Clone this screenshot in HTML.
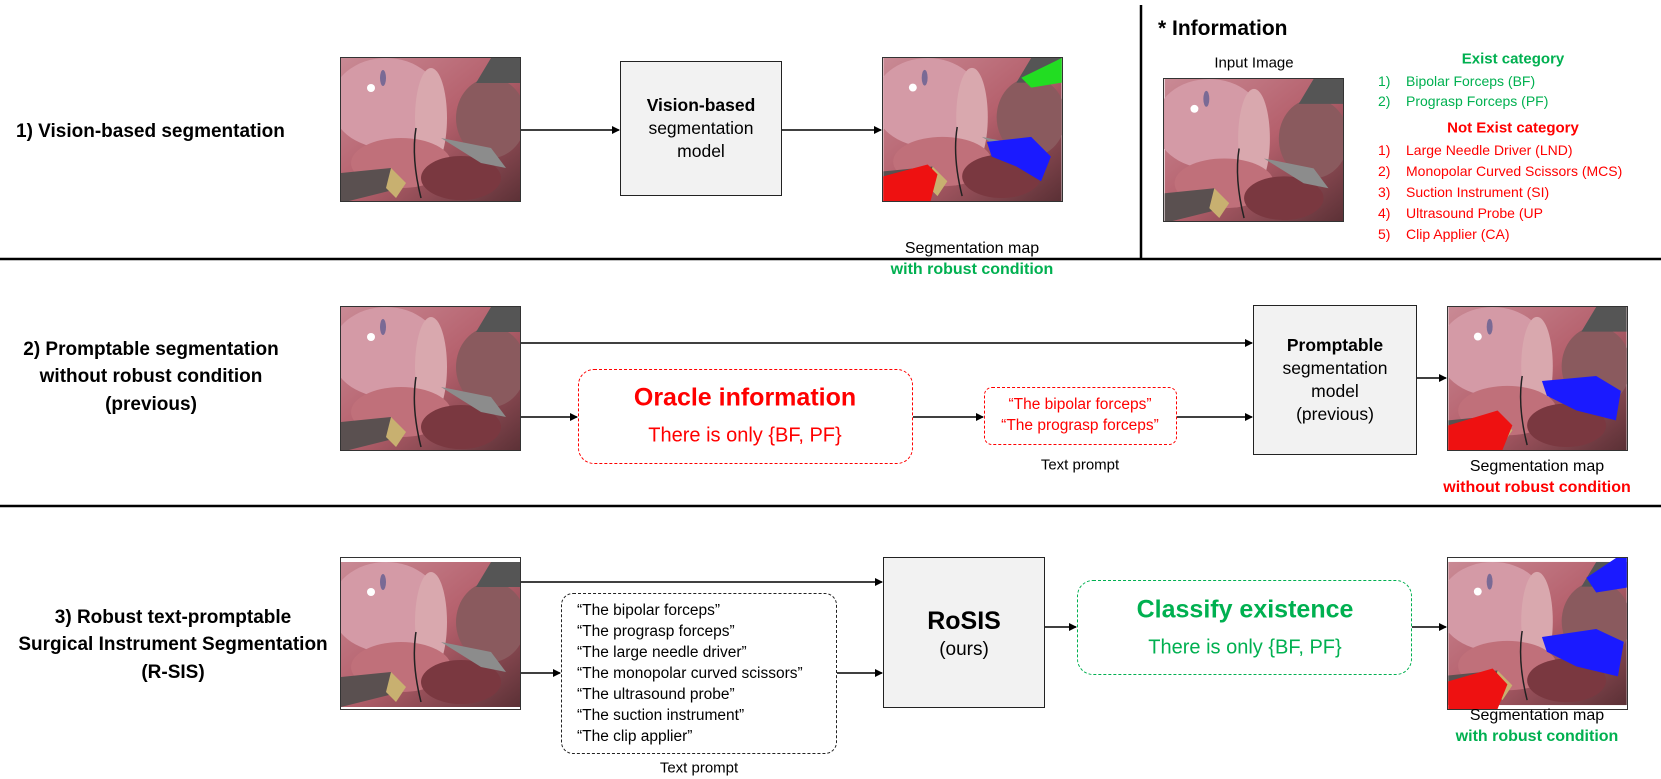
<!DOCTYPE html>
<html><head><meta charset="utf-8"><style>
body{margin:0;background:#fff;}
#c{position:relative;width:1661px;height:779px;overflow:hidden;font-family:"Liberation Sans",sans-serif;color:#000;}
.a{position:absolute;}
.t{position:absolute;white-space:nowrap;transform:translate(-50%,-50%);}
.l{position:absolute;white-space:nowrap;transform:translateY(-50%);}
.img{position:absolute;width:181px;height:145px;border:1px solid #333;box-sizing:border-box;overflow:hidden;}
.box{position:absolute;background:#f2f2f2;border:1.5px solid #222;box-sizing:border-box;display:flex;flex-direction:column;align-items:center;justify-content:center;text-align:center;font-size:17.5px;line-height:23px;}
.b{font-weight:bold;}
.g{color:#00b050;}.r{color:#ff0000;}
.rl{font-weight:bold;font-size:19px;}
.sm{font-size:16px;}
</style></head><body><div id="c">
<svg width="0" height="0" style="position:absolute">
<defs>
<linearGradient id="bg" x1="0" y1="0" x2="1" y2="1"><stop offset="0" stop-color="#c98a95"/><stop offset="0.5" stop-color="#b5606c"/><stop offset="1" stop-color="#5a3035"/></linearGradient>
<symbol id="scene" viewBox="0 0 181 145">
<rect width="181" height="145" fill="url(#bg)"/>
<ellipse cx="45" cy="45" rx="55" ry="45" fill="#d49aa6"/>
<ellipse cx="90" cy="60" rx="16" ry="50" fill="#d9a8ae"/>
<ellipse cx="150" cy="60" rx="35" ry="40" fill="#8a5a5e"/>
<ellipse cx="60" cy="105" rx="50" ry="25" fill="#c0707a"/>
<ellipse cx="120" cy="120" rx="40" ry="22" fill="#7a3840"/>
<circle cx="30" cy="30" r="4" fill="#fff"/>
<ellipse cx="42" cy="20" rx="3" ry="8" fill="#7a6a95"/>
<path d="M100 80 L150 90 L165 110 L140 105 Z" fill="#8c8c8c"/>
<path d="M0 115 L50 110 L60 130 L0 145 Z" fill="#5a5050"/>
<path d="M50 110 L65 125 L55 140 L45 130Z" fill="#c8b070"/>
<path d="M150 0 L181 0 L181 25 L135 25Z" fill="#555"/>
<path d="M75 70 Q70 100 80 140" stroke="#222" stroke-width="1.5" fill="none"/>
</symbol>
</defs></svg>

<!-- Row 1 -->
<div class="l rl" style="left:16px;top:132px;">1) Vision-based segmentation</div>
<svg class="img" style="left:340px;top:57px"><use href="#scene" width="181" height="145"/></svg>
<div class="box" style="left:620px;top:61px;width:162px;height:135px;"><span class="b">Vision-based</span><span>segmentation</span><span>model</span></div>
<svg class="img" style="left:882px;top:57px" viewBox="0 0 181 145"><use href="#scene" width="181" height="145"/>
<path d="M140 20 L181 0 L181 25 L150 30Z" fill="#22dd22"/>
<path d="M105 85 L150 80 L170 100 L160 125 L135 110 L110 100Z" fill="#1a1aff"/>
<path d="M0 120 L45 108 L55 118 L48 145 L0 145Z" fill="#ee1111"/></svg>
<div class="t sm" style="left:972px;top:249px;">Segmentation map</div>
<div class="t b g sm" style="left:972px;top:270px;">with robust condition</div>

<!-- Info -->
<div class="l b" style="left:1158px;top:29px;font-size:21px;">* Information</div>
<div class="t" style="left:1254px;top:63px;font-size:15px;">Input Image</div>
<svg class="img" style="left:1163px;top:78px;height:144px"><use href="#scene" width="181" height="144"/></svg>
<div class="t b g" style="left:1513px;top:59px;font-size:15px;">Exist category</div>
<div class="l g" style="left:1378px;top:81px;font-size:14px;">1)</div><div class="l g" style="left:1406px;top:81px;font-size:14px;">Bipolar Forceps (BF)</div>
<div class="l g" style="left:1378px;top:101px;font-size:14px;">2)</div><div class="l g" style="left:1406px;top:101px;font-size:14px;">Prograsp Forceps (PF)</div>
<div class="t b r" style="left:1513px;top:128px;font-size:15px;">Not Exist category</div>
<div class="l r" style="left:1378px;top:150px;font-size:14px;">1)</div><div class="l r" style="left:1406px;top:150px;font-size:14px;">Large Needle Driver (LND)</div>
<div class="l r" style="left:1378px;top:171px;font-size:14px;">2)</div><div class="l r" style="left:1406px;top:171px;font-size:14px;">Monopolar Curved Scissors (MCS)</div>
<div class="l r" style="left:1378px;top:192px;font-size:14px;">3)</div><div class="l r" style="left:1406px;top:192px;font-size:14px;">Suction Instrument (SI)</div>
<div class="l r" style="left:1378px;top:213px;font-size:14px;">4)</div><div class="l r" style="left:1406px;top:213px;font-size:14px;">Ultrasound Probe (UP</div>
<div class="l r" style="left:1378px;top:234px;font-size:14px;">5)</div><div class="l r" style="left:1406px;top:234px;font-size:14px;">Clip Applier (CA)</div>

<!-- Row 2 -->
<div class="t rl" style="left:151px;top:350px;">2) Promptable segmentation</div>
<div class="t rl" style="left:151px;top:377px;">without robust condition</div>
<div class="t rl" style="left:151px;top:405px;">(previous)</div>
<svg class="img" style="left:340px;top:306px"><use href="#scene" width="181" height="145"/></svg>
<div class="a" style="left:578px;top:369px;width:335px;height:95px;border:1.5px dashed #ff0000;border-radius:16px;box-sizing:border-box;"></div>
<div class="t b r" style="left:745px;top:398px;font-size:25px;">Oracle information</div>
<div class="t r" style="left:745px;top:436px;font-size:20px;">There is only {BF, PF}</div>
<div class="a" style="left:984px;top:387px;width:193px;height:58px;border:1.5px dashed #ff0000;border-radius:8px;box-sizing:border-box;"></div>
<div class="t r" style="left:1080px;top:405px;font-size:15.5px;">“The bipolar forceps”</div>
<div class="t r" style="left:1080px;top:426px;font-size:15.5px;">“The prograsp forceps”</div>
<div class="t" style="left:1080px;top:465px;font-size:15px;">Text prompt</div>
<div class="box" style="left:1253px;top:305px;width:164px;height:150px;"><span class="b">Promptable</span><span>segmentation</span><span>model</span><span>(previous)</span></div>
<svg class="img" style="left:1447px;top:306px" viewBox="0 0 181 145"><use href="#scene" width="181" height="145"/>
<path d="M95 75 L150 70 L175 85 L170 115 L130 105 L100 90Z" fill="#1a1aff"/>
<path d="M0 120 L50 105 L65 120 L55 145 L0 145Z" fill="#ee1111"/></svg>
<div class="t sm" style="left:1537px;top:467px;">Segmentation map</div>
<div class="t b r sm" style="left:1537px;top:488px;">without robust condition</div>

<!-- Row 3 -->
<div class="t rl" style="left:173px;top:618px;">3) Robust text-promptable</div>
<div class="t rl" style="left:173px;top:645px;">Surgical Instrument Segmentation</div>
<div class="t rl" style="left:173px;top:673px;">(R-SIS)</div>
<svg class="img" style="left:340px;top:557px;height:153px"><use href="#scene" width="181" height="153"/></svg>
<div class="a" style="left:561px;top:593px;width:276px;height:161px;border:1.5px dashed #222;border-radius:12px;box-sizing:border-box;"></div>
<div class="a" style="left:577px;top:600px;font-size:15.5px;line-height:21px;white-space:nowrap;">“The bipolar forceps”<br>“The prograsp forceps”<br>“The large needle driver”<br>“The monopolar curved scissors”<br>“The ultrasound probe”<br>“The suction instrument”<br>“The clip applier”</div>
<div class="t" style="left:699px;top:768px;font-size:15px;">Text prompt</div>
<div class="box" style="left:883px;top:557px;width:162px;height:151px;"><span class="b" style="font-size:25px;line-height:33px;">RoSIS</span><span style="font-size:19px;">(ours)</span></div>
<div class="a" style="left:1077px;top:580px;width:335px;height:95px;border:1.5px dashed #00b050;border-radius:16px;box-sizing:border-box;"></div>
<div class="t b g" style="left:1245px;top:610px;font-size:25px;">Classify existence</div>
<div class="t g" style="left:1245px;top:648px;font-size:20px;">There is only {BF, PF}</div>
<svg class="img" style="left:1447px;top:557px;height:153px" viewBox="0 0 181 153"><use href="#scene" width="181" height="153"/>
<path d="M140 20 L170 0 L181 0 L181 30 L150 35Z" fill="#1a1aff"/>
<path d="M95 80 L150 72 L178 85 L172 120 L130 110 L100 95Z" fill="#1a1aff"/>
<path d="M0 125 L45 112 L60 128 L50 153 L0 153Z" fill="#ee1111"/></svg>
<div class="t sm" style="left:1537px;top:716px;">Segmentation map</div>
<div class="t b g sm" style="left:1537px;top:737px;">with robust condition</div>

<!-- lines & arrows -->
<svg class="a" style="left:0;top:0" width="1661" height="779">
<defs><marker id="ar" markerWidth="8" markerHeight="8" refX="7" refY="4" orient="auto" markerUnits="userSpaceOnUse"><path d="M0,0 L8,4 L0,8Z" fill="#000"/></marker></defs>
<g stroke="#000" stroke-width="1.5" fill="none" marker-end="url(#ar)">
<line x1="521" y1="130" x2="619" y2="130"/>
<line x1="782" y1="130" x2="881" y2="130"/>
<line x1="521" y1="343" x2="1252" y2="343"/>
<line x1="521" y1="417" x2="577" y2="417"/>
<line x1="913" y1="417" x2="983" y2="417"/>
<line x1="1177" y1="417" x2="1252" y2="417"/>
<line x1="1417" y1="378" x2="1446" y2="378"/>
<line x1="521" y1="582" x2="882" y2="582"/>
<line x1="521" y1="673" x2="560" y2="673"/>
<line x1="837" y1="673" x2="882" y2="673"/>
<line x1="1045" y1="627" x2="1076" y2="627"/>
<line x1="1412" y1="627" x2="1446" y2="627"/>
</g>
<line x1="0" y1="259" x2="1661" y2="259" stroke="#000" stroke-width="2.5"/>
<line x1="0" y1="506" x2="1661" y2="506" stroke="#000" stroke-width="2.5"/>
<line x1="1141" y1="5" x2="1141" y2="259" stroke="#000" stroke-width="2.5"/>
</svg>
</div></body></html>
